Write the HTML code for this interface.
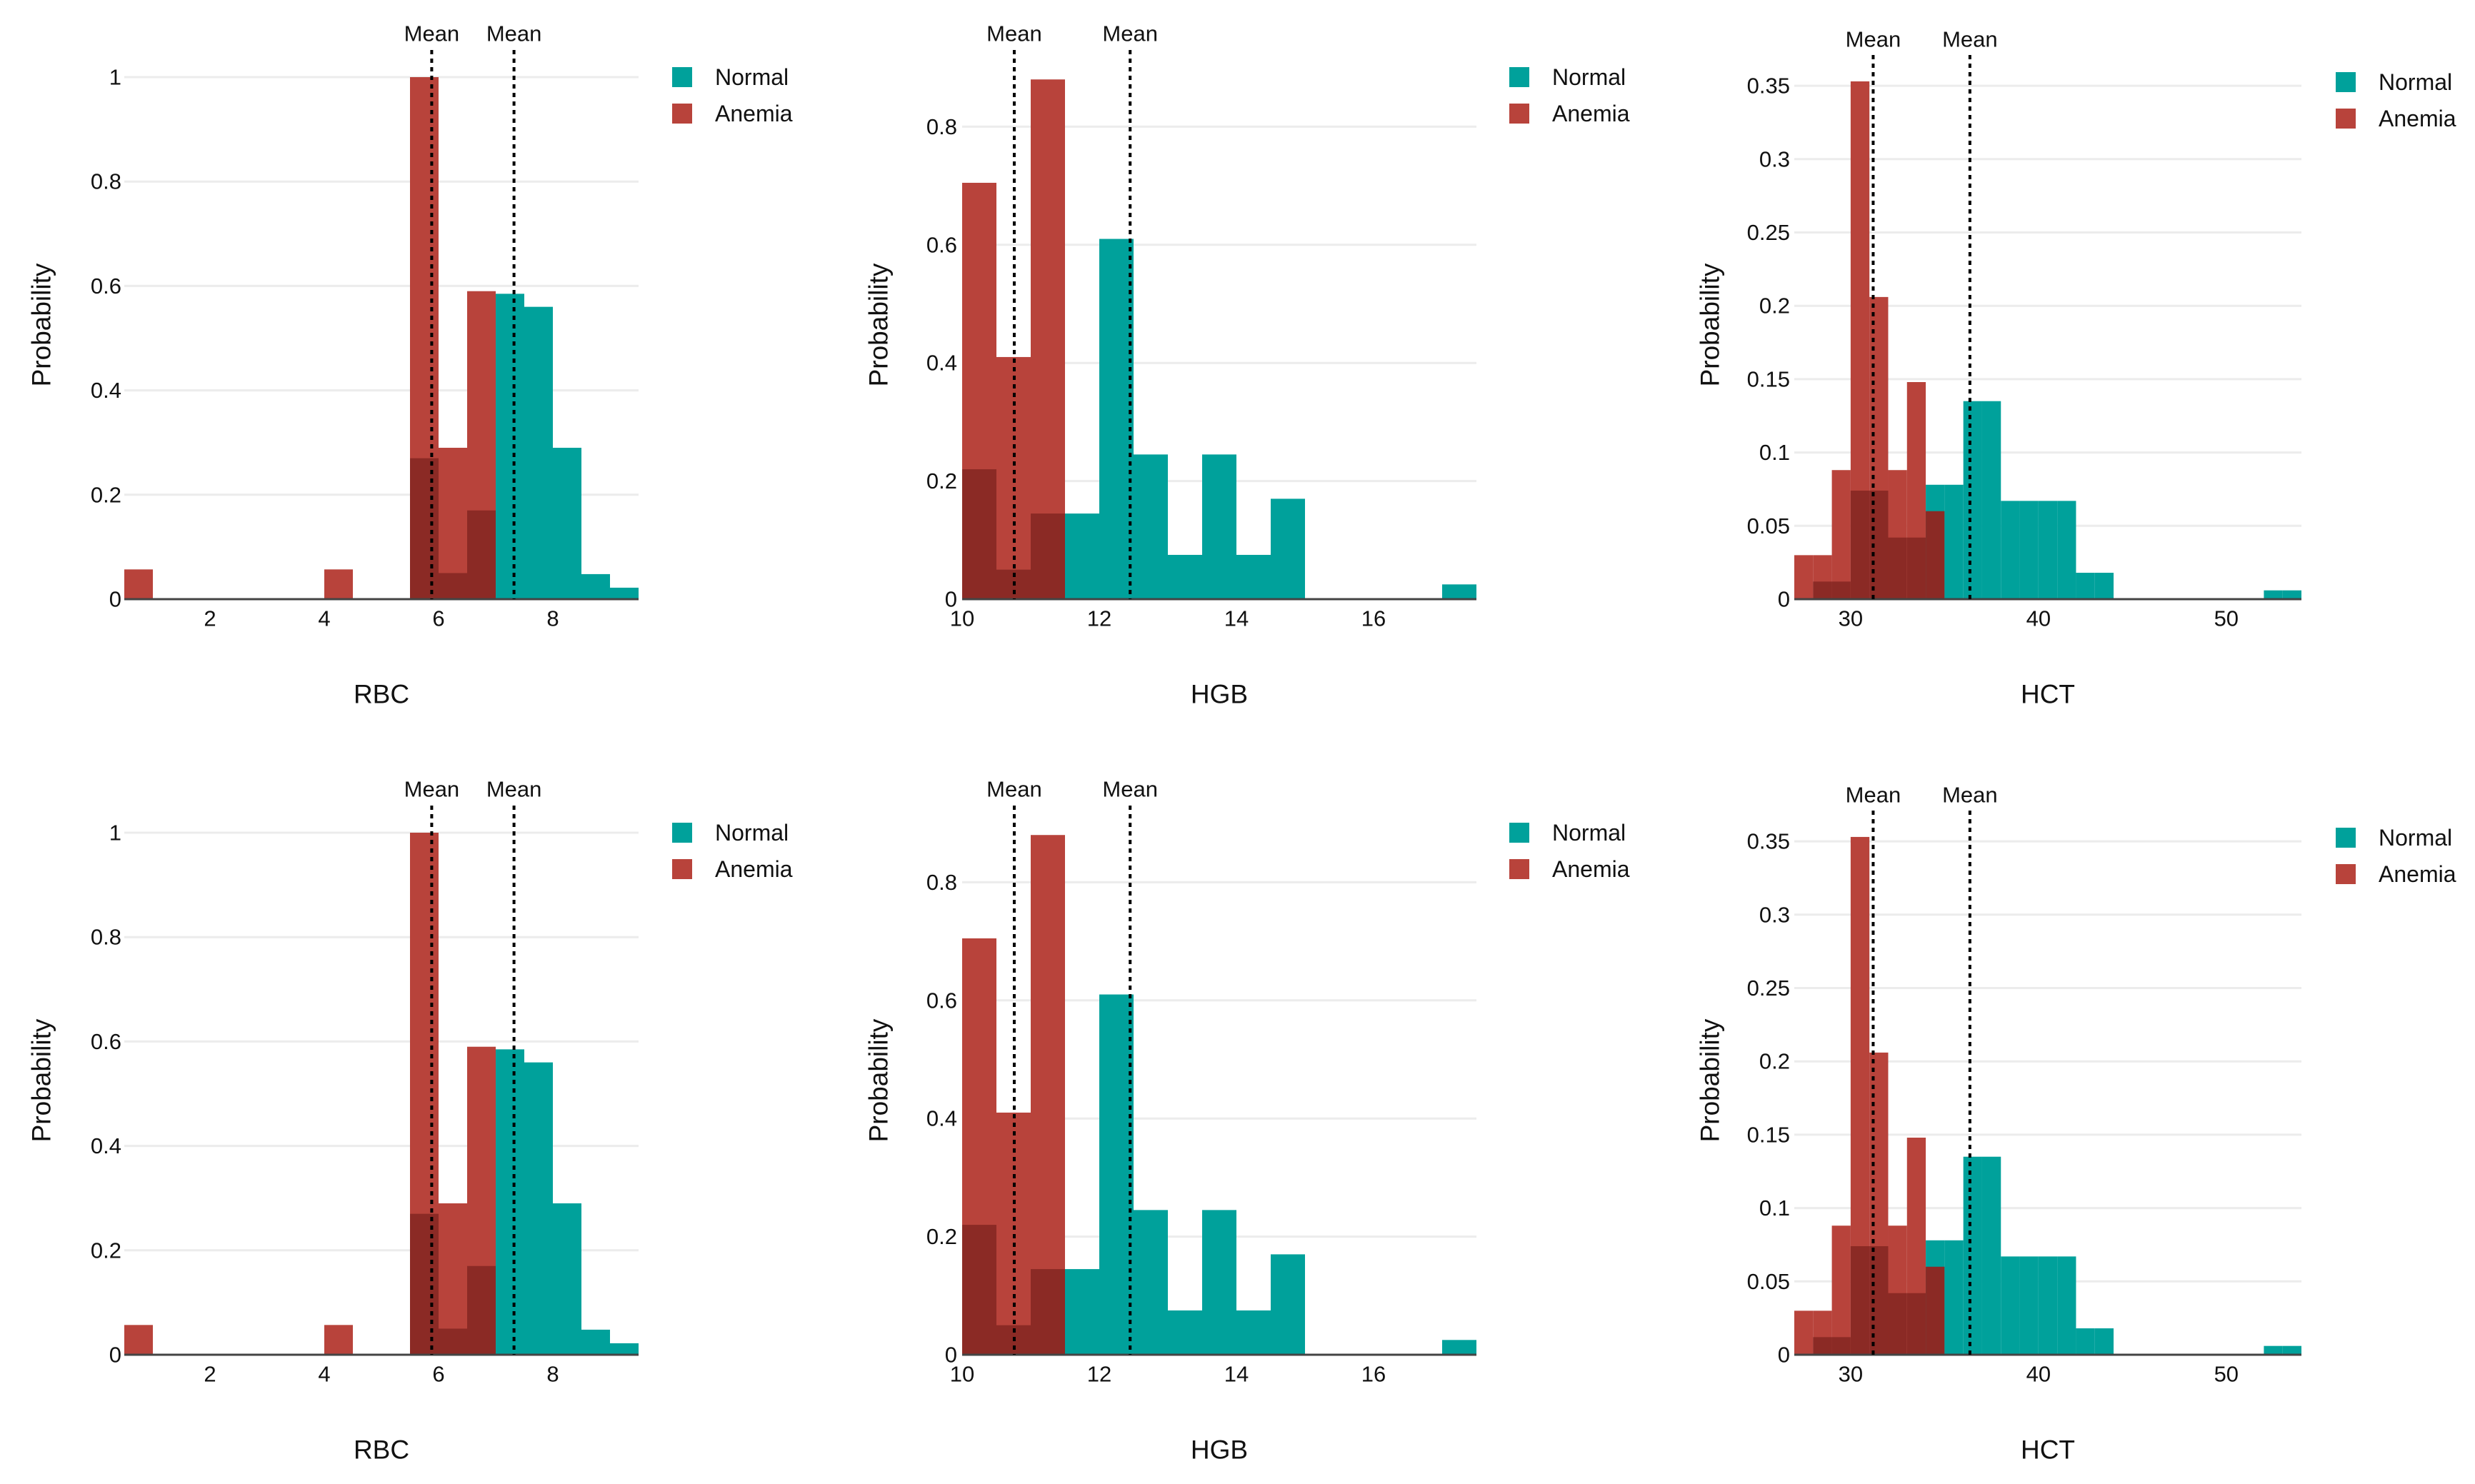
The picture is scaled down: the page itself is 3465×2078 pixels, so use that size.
<!DOCTYPE html>
<html><head><meta charset="utf-8">
<style>
html,body{margin:0;padding:0;background:#fff;}
svg{display:block;font-family:"Liberation Sans",Arial,sans-serif;}
</style></head>
<body>
<svg id="fig" width="3465" height="2078" viewBox="0 0 3465 2078" xmlns="http://www.w3.org/2000/svg"></svg>
<script>
// ---- RBC ----
const rbcEdges = [0.5,1,1.5,2,2.5,3,3.5,4,4.5,5,5.5,6,6.5,7,7.5,8,8.5,9,9.5];
const rbcAnemia = [0.057,0,0,0,0,0,0,0.057,0,0,1.0,0.29,0.59,0,0,0,0,0];
const rbcNormal = [0,0,0,0,0,0,0,0,0,0,0.27,0.05,0.17,0.585,0.56,0.29,0.048,0.022];
const rbcMeans = [5.88,7.32];
const rbcXTicks = [2,4,6,8];
const rbcYTicks = [0,0.2,0.4,0.6,0.8,1];
const rbcYTickLabels = ["0","0.2","0.4","0.6","0.8","1"];
// ---- HGB ----
const hgbEdges = [10,10.5,11,11.5,12,12.5,13,13.5,14,14.5,15,15.5,16,16.5,17,17.5];
const hgbAnemia = [0.705,0.41,0.88,0,0,0,0,0,0,0,0,0,0,0,0];
const hgbNormal = [0.22,0.05,0.145,0.145,0.61,0.245,0.075,0.245,0.075,0.17,0,0,0,0,0.025];
const hgbMeans = [10.76,12.45];
const hgbXTicks = [10,12,14,16];
const hgbYTicks = [0,0.2,0.4,0.6,0.8];
const hgbYTickLabels = ["0","0.2","0.4","0.6","0.8"];
// ---- HCT ----
const hctEdges = [27,28,29,30,31,32,33,34,35,36,37,38,39,40,41,42,43,44,45,46,47,48,49,50,51,52,53,54];
const hctAnemia = [0.03,0.03,0.088,0.353,0.206,0.088,0.148,0.06,0,0,0,0,0,0,0,0,0,0,0,0,0,0,0,0,0,0,0];
const hctNormal = [0,0.012,0.012,0.074,0.074,0.042,0.042,0.078,0.078,0.135,0.135,0.067,0.067,0.067,0.067,0.018,0.018,0,0,0,0,0,0,0,0,0.006,0.006];
const hctMeans = [31.2,36.35];
const hctXTicks = [30,40,50];
const hctYTicks = [0,0.05,0.1,0.15,0.2,0.25,0.3,0.35];
const hctYTickLabels = ["0","0.05","0.1","0.15","0.2","0.25","0.3","0.35"];

const NS = "http://www.w3.org/2000/svg";
const svg = document.getElementById("fig");
const RED = "#b8433b", TEAL = "#00a19b", DARK = "#8b2a25";

function el(tag, attrs, parent) {
  const e = document.createElementNS(NS, tag);
  for (const k in attrs) e.setAttribute(k, attrs[k]);
  parent.appendChild(e);
  return e;
}
function txt(parent, x, y, s, size, anchor, extra) {
  const t = el("text", Object.assign({x:x, y:y, "font-size":size, "text-anchor":anchor, fill:"#111", "dominant-baseline":"central"}, extra||{}), parent);
  t.textContent = s;
  return t;
}

function panel(cfg, dy, name) {
  const g = el("g", {}, svg);
  
  
  const xs = v => cfg.px0 + (v - cfg.x0) / (cfg.x1 - cfg.x0) * (cfg.px1 - cfg.px0);
  const ys = v => dy + cfg.py0 - v * cfg.pyPerUnit;
  cfg.yTicks.forEach((v, i) => {
    if (v > 0) {
      const gl = el("line", {x1:cfg.px0, x2:cfg.px1, y1:ys(v), y2:ys(v), stroke:"#ececec", "stroke-width":3}, g);
      
      
    }
    const tl = txt(g, cfg.tickRight, ys(v), cfg.yLabels[i], 31, "end");
    
    
  });
  for (let i = 0; i < cfg.edges.length - 1; i++) {
    const a = cfg.anemia[i], n = cfg.normal[i];
    const xa = xs(cfg.edges[i]), xb = xs(cfg.edges[i+1]);
    const lo = Math.min(a, n), hi = Math.max(a, n);
    if (hi > 0) {
      const r = el("rect", {x:xa, y:ys(hi), width:xb-xa, height:ys(0)-ys(hi), fill: a >= n ? RED : TEAL}, g);
      
      
    }
    if (lo > 0) {
      const r2 = el("rect", {x:xa, y:ys(lo), width:xb-xa, height:ys(0)-ys(lo), fill:DARK}, g);
      
      
    }
  }
  const bl = el("line", {x1:cfg.px0, x2:cfg.px1, y1:ys(0), y2:ys(0), stroke:"#444", "stroke-width":3}, g);
  
  
  cfg.xTicks.forEach(v => {
    const t = txt(g, xs(v), dy + cfg.py0 + 27, String(v), 31, "middle");
    
    
  });
  cfg.means.forEach(m => {
    const ml = el("line", {x1:xs(m), x2:xs(m), y1:dy + cfg.meanTop, y2:ys(0), stroke:"#000", "stroke-width":4, "stroke-dasharray":"6,6"}, g);
    
    
    const mt = txt(g, xs(m), dy + cfg.meanLabelY, "Mean", 31, "middle");
    
    
  });
  const yt = txt(g, cfg.yTitleX, dy + 455, "Probability", 37, "middle", {transform:`rotate(-90 ${cfg.yTitleX} ${dy + 455})`});
  
  
  const xt = txt(g, (cfg.px0 + cfg.px1) / 2, dy + 972, cfg.title, 37, "middle");
  
  
  const leg = [["Normal", TEAL], ["Anemia", RED]];
  leg.forEach((L, i) => {
    const ly = dy + cfg.legY + i * 51;
    const sq = el("rect", {x:cfg.legX, y:ly - 14, width:28, height:28, fill:L[1]}, g);
    
    
    const lt = txt(g, cfg.legX + 60, ly, L[0], 32, "start");
    
    
  });
}

const cfgs = [
  {name:"rbc", title:"RBC", edges:rbcEdges, anemia:rbcAnemia, normal:rbcNormal, means:rbcMeans, xTicks:rbcXTicks, yTicks:rbcYTicks, yLabels:rbcYTickLabels,
   x0:0.5, x1:9.5, px0:174, px1:894, py0:839, pyPerUnit:731, tickRight:170, meanTop:70, meanLabelY:47, yTitleX:58, legX:941, legY:108},
  {name:"hgb", title:"HGB", edges:hgbEdges, anemia:hgbAnemia, normal:hgbNormal, means:hgbMeans, xTicks:hgbXTicks, yTicks:hgbYTicks, yLabels:hgbYTickLabels,
   x0:10, x1:17.5, px0:1347, px1:2067, py0:839, pyPerUnit:827, tickRight:1340, meanTop:70, meanLabelY:47, yTitleX:1230, legX:2113, legY:108},
  {name:"hct", title:"HCT", edges:hctEdges, anemia:hctAnemia, normal:hctNormal, means:hctMeans, xTicks:hctXTicks, yTicks:hctYTicks, yLabels:hctYTickLabels,
   x0:27, x1:54, px0:2512, px1:3222, py0:839, pyPerUnit:2054, tickRight:2506, meanTop:77, meanLabelY:55, yTitleX:2394, legX:3270, legY:115}
];
[0, 1058].forEach((dy, row) => {
  cfgs.forEach(c => panel(c, dy, c.name + (row ? '-bottom' : '-top')));
});
</script>
</body></html>
